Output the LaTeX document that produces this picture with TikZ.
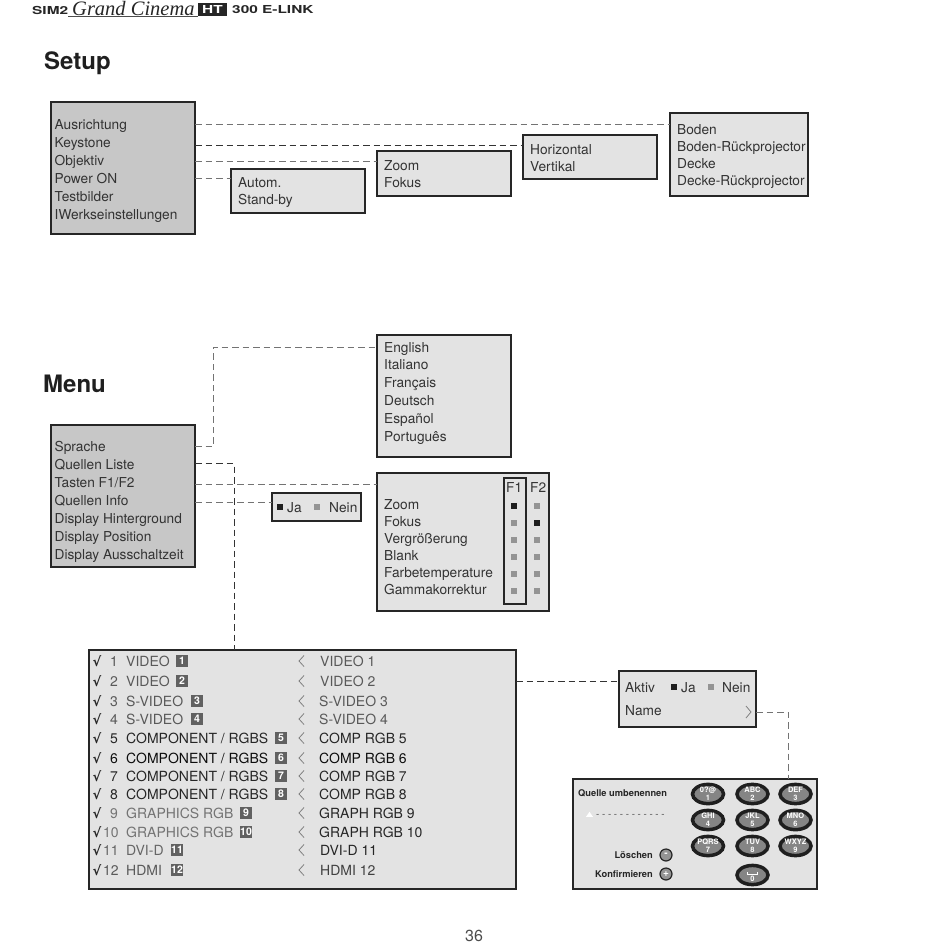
\documentclass[tikz,border=0pt]{standalone}
\usepackage{graphicx}
\usepackage{fontspec}
\setmainfont{TeX Gyre Heros}
\newfontfamily\symfont{DejaVu Sans}
\newfontfamily\logofont{Liberation Serif}
\newcommand{\widelogo}[1]{\scalebox{1.4}[1]{#1}}
\usetikzlibrary{arrows.meta,positioning,shapes.geometric,fit,calc}

\begin{document}
\begin{tikzpicture}[x=1pt, y=-1pt,
  mainbox/.style={draw=black!85, line width=1.6pt, fill=black!22},
  subbox/.style={draw=black!85, line width=1.6pt, fill=black!11},
  row/.style={anchor=base west, yshift=-5pt, inner sep=0pt, font=\fontsize{13.7}{14}\selectfont, text=black!80},
  title/.style={anchor=base west, inner sep=0pt, font=\fontsize{24}{25}\selectfont\bfseries, text=black!88},
  head/.style={anchor=west, inner sep=0pt, font=\fontsize{11}{11}\selectfont\bfseries, text=black!85},
  link/.style={draw=black!55, line width=0.9pt, dash pattern=on 6.5pt off 4pt},
  darklink/.style={link, draw=black!80},
  onmark/.style={fill=black!88, minimum size=6pt, inner sep=0pt},
  offmark/.style={fill=black!42, minimum size=6pt, inner sep=0pt},
  numtag/.style={fill=black!62, text=white, font=\fontsize{10.5}{10.5}\selectfont\bfseries, minimum size=12pt, inner sep=0pt},
  chev/.style={draw=black!50, line width=0.8pt},
  key/.style={ellipse, draw=black!88, line width=3.5pt, fill=black!48, minimum width=31pt, minimum height=18pt,
    inner sep=0pt, align=center, text=white, font=\fontsize{7.5}{8}\selectfont\bfseries},
  rnd/.style={circle, draw=black!85, line width=1.2pt, fill=black!42, text=white, minimum size=12pt, inner sep=0pt,
    font=\fontsize{10}{10}\selectfont\bfseries},
  small/.style={anchor=east, inner sep=0pt, font=\fontsize{9.3}{10}\selectfont\bfseries, text=black!85},
]
  \useasboundingbox (0,0) rectangle (950,951);
  \fill[white] (0,0) rectangle (950,951);

  % Header
  \node[head] (sim) at (32,10) {\widelogo{SIM2}};
  \node[anchor=west, inner sep=0pt, font=\logofont\fontsize{20.5}{20}\selectfont\itshape, text=black!85] (grand) at (72,8) {Grand Cinema};
  \node[fill=black!85, text=white, font=\fontsize{11}{11}\selectfont\bfseries, minimum width=29pt, minimum height=13pt, inner sep=0pt] (ht) at (212.5,9.5) {\widelogo{HT}};
  \node[head] (brand) at (232,10) {\widelogo{300 E-LINK}};
  \draw[draw=black!70, line width=0.6pt] (sim.south east |- ht.south) -- (ht.south west);
  \node[title] (setuptitle) at (44,69.5) {Setup};
  \node[title] (menutitle) at (43,392) {Menu};
  \node[inner sep=0pt, font=\fontsize{16}{16}\selectfont, text=black!70] (page) at (474,936) {36};

  % Boxes
  \draw[mainbox] (51,102) rectangle (195,234);
  \draw[subbox] (231,169) rectangle (365,213);
  \draw[subbox] (377,151) rectangle (511,196);
  \draw[subbox] (523,135) rectangle (657,179);
  \draw[subbox] (670,113) rectangle (808,196);
  \draw[mainbox] (51,425) rectangle (195,567);
  \draw[subbox] (377,335) rectangle (511,457);
  \draw[subbox] (272,493) rectangle (361,521);
  \draw[subbox] (377,473) rectangle (549,611);
  \draw[subbox] (89,650) rectangle (516,889);
  \draw[subbox] (619,671) rectangle (756,727);
  \draw[subbox] (573,779) rectangle (817,889);
  \draw[draw=black!85, line width=1.4pt] (504,478) rectangle (526,604);

  \coordinate (setupright) at (195,102);
  \coordinate (menuright) at (195,425);
  \coordinate (bodenleft) at (670,113);
  \coordinate (horizleft) at (523,135);
  \coordinate (zoomleft) at (377,151);
  \coordinate (autoleft) at (231,169);
  \coordinate (langleft) at (377,335);
  \coordinate (funcleft) at (377,473);
  \coordinate (janeinleft) at (272,493);
  \coordinate (sourcetop) at (234,650);
  \coordinate (sourceright) at (516,650);
  \coordinate (activeleft) at (619,671);
  \coordinate (activeright) at (756,671);
  \coordinate (keypadtop) at (788,779);

  % Setup rows
  \foreach \n/\y/\t in {ausr/124/Ausrichtung, keys/142/Keystone, obj/160/Objektiv, pow/178/Power ON,
      test/196/Testbilder, werk/214/IWerkseinstellungen}
    \node[row] (\n) at (54.5,\y) {\t};
  \foreach \n/\x/\y/\t in {auto/238/182/Autom., stby/238/199/Stand-by, zoom/384/165/Zoom, fok/384/182/Fokus,
      horiz/530/149/Horizontal, vert/530/166/Vertikal, bod/677/129/Boden, bodr/677/146/Boden-Rückprojector,
      deck/677/163/Decke, deckr/677/180/Decke-Rückprojector}
    \node[row] (\n) at (\x,\y) {\t};

  % Menu rows
  \foreach \n/\y/\t in {spr/446/Sprache, qlist/464/Quellen Liste, tast/482/{Tasten F1/F2}, qinfo/500/Quellen Info,
      dhin/518/Display Hinterground, dpos/536/Display Position, daus/554/Display Ausschaltzeit}
    \node[row] (\n) at (54.5,\y) {\t};
  \foreach \n/\y/\t in {eng/347/English, ita/364/Italiano, fra/382/Français, deu/400/Deutsch, esp/418/Español, por/436/Português}
    \node[row] (\n) at (384,\y) {\t};

  % Ja / Nein
  \node[onmark] (jaon) at (280,507) {};
  \node[row] (ja) at (287,507) {Ja};
  \node[offmark] (neinoff) at (317,507) {};
  \node[row] (nein) at (329,507) {Nein};

  % Function keys
  \node[row] (fone) at (506,487) {F1};
  \node[row] (ftwo) at (530,487) {F2};
  \foreach \n/\y/\t/\a/\b in {fz/504/Zoom/onmark/offmark, ff/521/Fokus/offmark/onmark, fv/538/Vergrößerung/offmark/offmark,
      fb/555/Blank/offmark/offmark, ft/572/Farbetemperature/offmark/offmark, fg/589/Gammakorrektur/offmark/offmark} {
    \node[row] (\n) at (384,\y) {\t};
    \node[\a] (\n a) at (514,\y+2) {};
    \node[\b] (\n b) at (537,\y+2) {};
  }

  % Source list
  \foreach \i/\y/\xn/\t/\xt/\u/\r/\c/\d in {
      1/661/110/VIDEO/182/{VIDEO 1}/320/65/65,
      2/681/110/VIDEO/182/{VIDEO 2}/320/65/65,
      3/701/110/S-VIDEO/197/{S-VIDEO 3}/319/65/65,
      4/719/110/S-VIDEO/197/{S-VIDEO 4}/319/65/65,
      5/738/110/{COMPONENT / RGBS}/281/{COMP RGB 5}/319/85/85,
      6/758/110/{COMPONENT / RGBS}/281/{COMP RGB 6}/319/95/95,
      7/776/110/{COMPONENT / RGBS}/281/{COMP RGB 7}/319/85/85,
      8/794/110/{COMPONENT / RGBS}/281/{COMP RGB 8}/319/85/85,
      9/813/110/GRAPHICS RGB/246/{GRAPH RGB 9}/319/55/85,
      10/832/103/GRAPHICS RGB/246/{GRAPH RGB 10}/319/55/85,
      11/850/103/DVI-D/177/{DVI-D 11}/320/60/85,
      12/870/103/HDMI/177/{HDMI 12}/320/65/75} {
    \node[anchor=center, inner sep=0pt, font=\symfont\bfseries\fontsize{13}{13}\selectfont, text=black!85] (chk\i) at (97,\y) {√};
    \node[row, font=\fontsize{14}{14}\selectfont, text=black!\c] (num\i) at (\xn,\y) {\i};
    \node[row, font=\fontsize{14}{14}\selectfont, text=black!\c] (src\i) at (126,\y) {\t};
    \node[numtag] (tag\i) at (\xt,\y) {\i};
    \draw[chev] (304,\y-5.5) -- (299,\y) -- (304,\y+5.5);
    \node[row, font=\fontsize{14}{14}\selectfont, text=black!\d] (name\i) at (\r,\y) {\u};
  }

  % Active / name
  \node[row] (aktiv) at (625,687) {Aktiv};
  \node[onmark] (aon) at (674,687) {};
  \node[row] (aja) at (681,687) {Ja};
  \node[offmark] (aoff) at (711,687) {};
  \node[row] (anein) at (722,687) {Nein};
  \node[row] (aname) at (625,710) {Name};
  \draw[chev] (746,706) -- (751,712) -- (746,718);

  % Keypad
  \node[anchor=west, inner sep=0pt, font=\fontsize{9.3}{10}\selectfont\bfseries, text=black!85] (qtitle) at (578,793) {Quelle umbenennen};
  \node[isosceles triangle, isosceles triangle apex angle=70, shape border rotate=90, fill=white, minimum size=5pt, inner sep=0pt] (cursor) at (589.5,815) {};
  \node[anchor=west, inner sep=0pt, font=\fontsize{9.7}{9}\selectfont, text=black!70] (blanks) at (596,816) {- - - - - - - - - - - -};
  \foreach \n/\x/\y/\t in {ka/708/794/{0?@\\1}, kb/752.5/794/{ABC\\2}, kc/795.5/794/{DEF\\3},
      kd/708/820/{GHI\\4}, ke/752.5/820/{JKL\\5}, kf/795.5/820/{MNO\\6},
      kg/708/846/{PQRS\\7}, kh/752.5/846/{TUV\\8}, ki/795.5/846/{WXYZ\\9}, kj/752.5/875/{\phantom{X}\\0}}
    \node[key] (\n) at (\x,\y) {\t};
  \draw[draw=white, line width=1pt] ([shift={(-5pt,3pt)}]kj.center) -- ++(0,2) -- ++(10,0) -- ++(0,-2);
  \node[small] (losch) at (653,855) {Löschen};
  \node[rnd] (minus) at (666,855) {-};
  \node[small] (konf) at (653,874) {Konfirmieren};
  \node[rnd] (plus) at (666,874) {+};

  % Connectors
  \draw[link] (setupright |- 0,124) -- (bodenleft |- 0,124);
  \draw[darklink] (setupright |- 0,145) -- (horizleft |- 0,145);
  \draw[link] (setupright |- 0,161) -- (zoomleft |- 0,161);
  \draw[link] (setupright |- 0,178) -- (autoleft |- 0,178);
  \draw[link] (menuright |- 0,446.5) -- (213,446.5) -- (213,347) -- (langleft |- 0,347);
  \draw[darklink] (menuright |- 0,463.5) -- (sourcetop |- 0,463.5) -- (sourcetop);
  \draw[link] (menuright |- 0,484) -- (funcleft |- 0,484);
  \draw[link] (menuright |- 0,502.5) -- (janeinleft |- 0,502.5);
  \draw[darklink] (sourceright |- 0,681) -- (activeleft |- 0,681);
  \draw[link] (activeright |- 0,712) -- (keypadtop |- 0,712) -- (keypadtop);
\end{tikzpicture}
\end{document}
